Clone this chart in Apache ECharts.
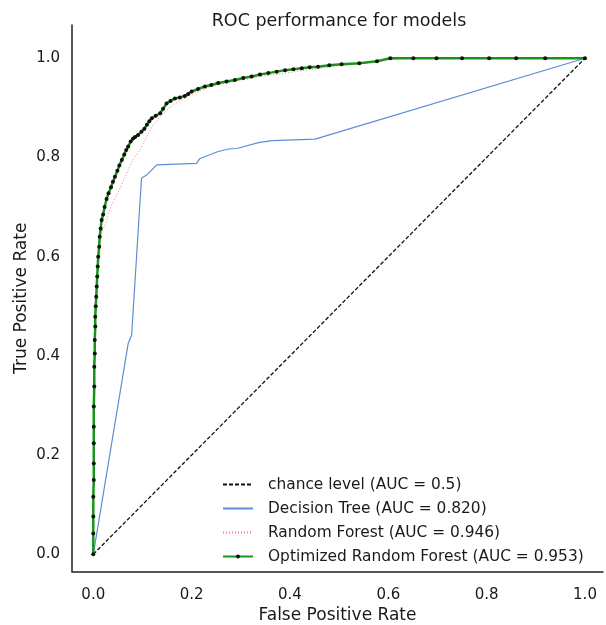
<!DOCTYPE html>
<html>
<head>
<meta charset="utf-8">
<title>ROC performance for models</title>
<script src="https://cdn.jsdelivr.net/npm/echarts@6/dist/echarts.min.js"></script>
<style>
  html, body { margin: 0; padding: 0; background: #fff; }
  #chart { width: 606px; height: 625px; }
</style>
</head>
<body>
<div id="chart"></div>
<script>
// 坐标刻度
const tickValues = [0, 0.2, 0.4, 0.6, 0.8, 1.0]

// 图例名称
const seriesNames = [
  'chance level (AUC = 0.5)',
  'Decision Tree (AUC = 0.820)',
  'Random Forest (AUC = 0.946)',
  'Optimized Random Forest (AUC = 0.953)'
]

// 随机猜测基准线
const chancePoints = [[0, 0], [1, 1]]

// 决策树 ROC (fpr, tpr)
const treePoints = [
  [0, 0], [0.071, 0.425], [0.078, 0.442], [0.098, 0.758], [0.109, 0.765],
  [0.129, 0.785], [0.210, 0.788], [0.217, 0.798], [0.254, 0.812], [0.275, 0.817],
  [0.292, 0.818], [0.336, 0.830], [0.363, 0.834], [0.451, 0.837], [1, 1]
]

// 随机森林 ROC
const forestPoints = [
  [0, 0], [0, 0.1], [0.001, 0.25], [0.002, 0.4], [0.005, 0.5], [0.009, 0.58],
  [0.012, 0.62], [0.015, 0.642], [0.020, 0.655], [0.026, 0.668], [0.031, 0.690],
  [0.037, 0.703], [0.044, 0.718], [0.051, 0.730], [0.058, 0.745], [0.064, 0.760],
  [0.071, 0.775], [0.078, 0.790], [0.085, 0.802], [0.095, 0.815], [0.102, 0.830],
  [0.109, 0.842], [0.116, 0.855], [0.122, 0.866], [0.129, 0.874], [0.136, 0.882],
  [0.145, 0.891], [0.153, 0.899], [0.163, 0.906], [0.173, 0.913], [0.193, 0.923],
  [0.210, 0.932], [0.240, 0.943], [0.270, 0.950], [0.300, 0.956], [0.340, 0.963],
  [0.390, 0.970], [0.440, 0.977], [0.500, 0.985], [0.550, 0.990], [0.600, 0.997],
  [0.650, 1.0], [1.0, 1.0]
]

// 优化后的随机森林 ROC
const optimizedPoints = [
  [0, 0], [0, 0.042], [0, 0.076], [0, 0.116], [0.001, 0.150], [0.001, 0.183],
  [0.001, 0.224], [0.001, 0.257], [0.001, 0.298], [0.002, 0.338], [0.002, 0.378],
  [0.003, 0.405], [0.003, 0.432], [0.004, 0.459], [0.004, 0.479], [0.005, 0.500],
  [0.006, 0.519], [0.007, 0.540], [0.008, 0.560], [0.009, 0.580], [0.010, 0.600],
  [0.012, 0.620], [0.013, 0.640], [0.015, 0.657], [0.017, 0.674], [0.020, 0.685],
  [0.023, 0.700], [0.027, 0.716], [0.031, 0.728], [0.036, 0.740], [0.040, 0.751],
  [0.044, 0.761], [0.049, 0.773], [0.053, 0.784], [0.058, 0.795], [0.063, 0.806],
  [0.067, 0.815], [0.071, 0.822], [0.076, 0.832], [0.081, 0.838], [0.085, 0.841],
  [0.091, 0.845], [0.098, 0.852], [0.104, 0.858], [0.109, 0.866], [0.114, 0.873],
  [0.119, 0.879], [0.127, 0.884], [0.136, 0.889], [0.142, 0.898], [0.149, 0.909],
  [0.157, 0.914], [0.166, 0.919], [0.176, 0.921], [0.186, 0.924], [0.193, 0.928],
  [0.200, 0.933], [0.213, 0.938], [0.227, 0.943], [0.240, 0.946], [0.254, 0.950],
  [0.271, 0.953], [0.288, 0.956], [0.305, 0.960], [0.322, 0.963], [0.339, 0.967],
  [0.356, 0.970], [0.373, 0.973], [0.390, 0.976], [0.407, 0.978], [0.424, 0.980],
  [0.440, 0.982], [0.457, 0.983], [0.480, 0.986], [0.505, 0.988], [0.541, 0.990],
  [0.577, 0.994], [0.604, 1.0], [0.651, 1.0], [0.698, 1.0], [0.750, 1.0],
  [0.805, 1.0], [0.860, 1.0], [0.919, 1.0], [1.0, 1.0]
]

const fontFamily = '"DejaVu Sans", sans-serif'
const textColor = '#1a1a1a'

const chart = echarts.init(document.getElementById('chart'))

// 图例只画线，前三条不要圆点
const hiddenDot = { opacity: 0 }

const option = {
  animation: false,
  title: {
    text: 'ROC performance for models',
    left: 339,
    textAlign: 'center',
    top: 12,
    padding: 0,
    textStyle: {
      fontFamily,
      fontSize: 17.5,
      fontWeight: 'normal',
      color: textColor
    }
  },
  legend: {
    data: [
      { name: seriesNames[0], itemStyle: hiddenDot },
      { name: seriesNames[1], itemStyle: hiddenDot },
      { name: seriesNames[2], itemStyle: hiddenDot },
      { name: seriesNames[3] }
    ],
    orient: 'vertical',
    left: 222,
    top: 477,
    padding: 0,
    itemWidth: 30,
    itemHeight: 5,
    itemGap: 9,
    selectedMode: false,
    textStyle: {
      fontFamily,
      fontSize: 15.4,
      color: textColor,
      padding: [0, 0, 0, 10]
    }
  },
  grid: {
    left: 72,
    right: 3,
    top: 25,
    bottom: 53.5,
    outerBoundsMode: 'none'
  },
  xAxis: {
    type: 'value',
    min: -0.0433,
    max: 1.0366,
    name: 'False Positive Rate',
    nameLocation: 'middle',
    nameGap: 36,
    nameMoveOverlap: false,
    nameTextStyle: { fontFamily, fontSize: 17, color: textColor },
    axisLine: { onZero: false, lineStyle: { color: '#222', width: 1.5 } },
    axisTick: { show: false },
    splitLine: { show: false },
    axisLabel: {
      customValues: tickValues,
      margin: 16,
      fontFamily,
      fontSize: 15,
      color: textColor,
      formatter: v => v.toFixed(1)
    }
  },
  yAxis: {
    type: 'value',
    min: -0.0347,
    max: 1.067,
    name: 'True Positive Rate',
    nameLocation: 'middle',
    nameGap: 42,
    nameMoveOverlap: false,
    nameTextStyle: { fontFamily, fontSize: 17, color: textColor },
    axisLine: { show: true, onZero: false, lineStyle: { color: '#222', width: 1.5 } },
    axisTick: { show: false },
    splitLine: { show: false },
    axisLabel: {
      customValues: tickValues,
      margin: 12,
      fontFamily,
      fontSize: 15,
      color: textColor,
      formatter: v => v.toFixed(1)
    }
  },
  series: [
    {
      name: seriesNames[0],
      type: 'line',
      data: chancePoints,
      symbol: 'none',
      lineStyle: { color: '#111', width: 1.3, type: [4, 2] }
    },
    {
      name: seriesNames[1],
      type: 'line',
      data: treePoints,
      symbol: 'none',
      lineStyle: { color: '#5a8fd6', width: 1.2 }
    },
    {
      name: seriesNames[2],
      type: 'line',
      data: forestPoints,
      symbol: 'none',
      lineStyle: { color: '#f07c7c', width: 1, type: [1, 2] }
    },
    {
      name: seriesNames[3],
      type: 'line',
      data: optimizedPoints,
      symbol: 'circle',
      symbolSize: 4,
      itemStyle: { color: '#111' },
      lineStyle: { color: '#17951a', width: 2.5 }
    }
  ]
}

chart.setOption(option)
</script>
</body>
</html>
